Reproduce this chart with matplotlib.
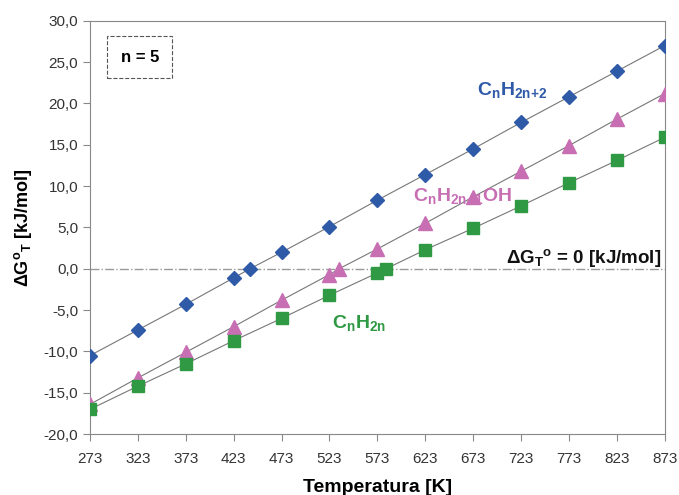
import matplotlib
matplotlib.use("Agg")
import matplotlib.pyplot as plt
from matplotlib.ticker import FuncFormatter

plt.rcParams["font.family"] = ["Liberation Sans", "DejaVu Sans"]
plt.rcParams["mathtext.fontset"] = "custom"
plt.rcParams["mathtext.rm"] = "Liberation Sans:bold"
plt.rcParams["mathtext.it"] = "Liberation Sans:bold"
plt.rcParams["mathtext.bf"] = "Liberation Sans:bold"

# temperatures [K] and Gibbs energy [kJ/mol] for n = 5
t_alkane = [273, 323, 373, 423, 440, 473, 523, 573, 623, 673, 723, 773, 823, 873]
g_alkane = [-10.5, -7.4, -4.3, -1.1, 0.0, 2.0, 5.1, 8.3, 11.4, 14.5, 17.7, 20.8, 23.9, 27.0]

t_alcohol = [273, 323, 373, 423, 473, 523, 533, 573, 623, 673, 723, 773, 823, 873]
g_alcohol = [-16.4, -13.2, -10.1, -7.0, -3.8, -0.7, 0.0, 2.4, 5.5, 8.7, 11.8, 14.9, 18.1, 21.2]

t_alkene = [273, 323, 373, 423, 473, 523, 573, 582, 623, 673, 723, 773, 823, 873]
g_alkene = [-17.0, -14.2, -11.5, -8.7, -6.0, -3.2, -0.5, 0.0, 2.3, 4.9, 7.6, 10.4, 13.1, 15.9]

xticks = list(range(273, 874, 50))

blue = "#2f5aa8"
pink = "#c86fb4"
green = "#2f9944"

fig = plt.figure(figsize=(6.79, 4.95), dpi=100)
ax = fig.add_axes([0.1325, 0.123, 0.8465, 0.835])

ax.axhline(0, color="#999999", lw=1.0, ls="-.", zorder=1)

ax.plot(t_alkane, g_alkane, color="#777777", lw=0.8, zorder=2)
ax.plot(t_alcohol, g_alcohol, color="#777777", lw=0.8, zorder=2)
ax.plot(t_alkene, g_alkene, color="#777777", lw=0.8, zorder=2)

ax.plot(t_alkane, g_alkane, ls="none", marker="D", ms=7.5, color=blue, zorder=4)
ax.plot(t_alcohol, g_alcohol, ls="none", marker="^", ms=10, color=pink, zorder=4)
ax.plot(t_alkene, g_alkene, ls="none", marker="s", ms=9, color=green, zorder=4)

ax.set_xlim(273, 873)
ax.set_ylim(-20, 30)
ax.set_xticks(xticks)
ax.set_yticks(range(-20, 31, 5))
ax.yaxis.set_major_formatter(FuncFormatter(lambda v, p: f"{v:.1f}".replace(".", ",")))
ax.tick_params(labelsize=11, colors="#333333", length=5, color="#888888")
ax.tick_params(axis="x", pad=8)
for s in ax.spines.values():
    s.set_color("#888888")

ax.set_xlabel("Temperatura [K]", fontsize=14, fontweight="bold", labelpad=9)
ax.set_ylabel(r"$\Delta$G$^{\mathrm{o}}$$_{\mathrm{T}}$ [kJ/mol]", fontsize=13, fontweight="bold", labelpad=7)

ax.text(714, 21.6, r"C$_{\mathrm{n}}$H$_{\mathrm{2n{+}2}}$", color=blue, fontsize=14,
        fontweight="bold", ha="center", va="center", zorder=3)
ax.text(662, 8.8, r"C$_{\mathrm{n}}$H$_{\mathrm{2n{+}1}}$OH", color=pink, fontsize=14,
        fontweight="bold", ha="center", va="center", zorder=3)
ax.text(554, -6.6, r"C$_{\mathrm{n}}$H$_{\mathrm{2n}}$", color=green, fontsize=14,
        fontweight="bold", ha="center", va="center", zorder=3)
ax.text(869, 1.3, r"$\Delta$G$_{\mathrm{T}}$$^{\mathrm{o}}$ = 0 [kJ/mol]", color="#111111",
        fontsize=13.5, fontweight="bold", ha="right", va="center", zorder=3)

ax.text(0.087, 0.912, "n = 5", transform=ax.transAxes, fontsize=12, fontweight="bold",
        ha="center", va="center",
        bbox=dict(boxstyle="square,pad=0.8", fc="white", ec="#555555", ls="--", lw=0.8))

fig.savefig("out.png", dpi=100)
